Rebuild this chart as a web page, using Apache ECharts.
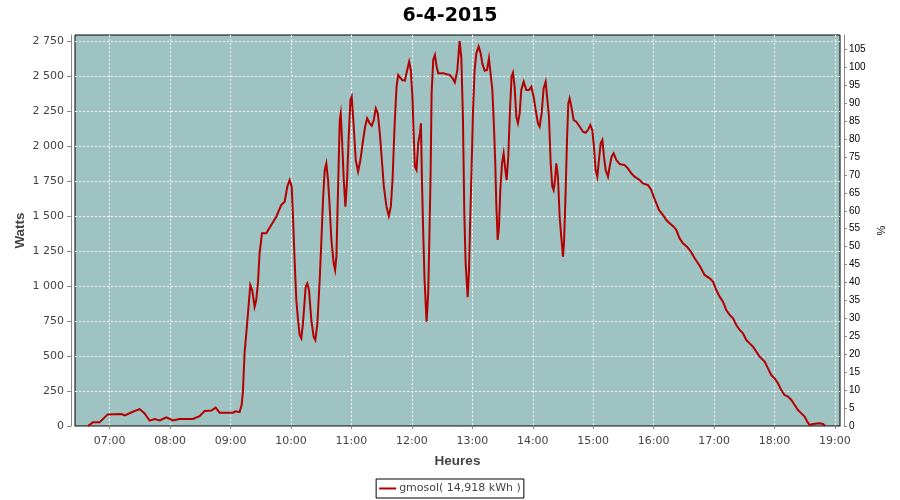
<!DOCTYPE html>
<html>
<head>
<meta charset="utf-8">
<script src="https://cdn.jsdelivr.net/npm/echarts@6/dist/echarts.min.js"></script>
<style>html,body{margin:0;padding:0;background:#fff}#c{width:900px;height:500px}</style>
</head>
<body>
<div id="c"></div>
<script>
// Time of day in minutes since midnight
const times = [398.5,403.4,410,418,431.6,435,443,449.8,454.7,459.7,464.7,469.6,476.3,482.8,489.5,502.7,509.3,514.3,521,525.2,529.2,542.4,545,549,551,552.3,553.9,556.7,559.6,561.5,563.9,565.5,567.2,568.8,571.2,575.5,580.4,585.4,590.4,593.7,596.4,598.7,600.7,602,603.6,605.3,607,608.6,610.3,611.9,614.6,616.2,617.9,620.2,622.5,624.2,626.2,628.5,630.2,631.8,633.5,635.1,636.8,638.4,640.1,642.4,643.8,645.1,646.7,648.4,649.4,650.7,652.4,654,655.7,657.3,659,660.3,662.3,664.3,666.6,668.9,671.6,673.6,675.6,678.2,680.2,682.2,684.2,686.2,688.2,690.2,692.2,694.8,697.1,699.1,700.8,702.8,704.8,706.4,708.1,710.4,713,715.4,717.3,719,720.7,722,723,724.6,726.3,728,729,730,731.3,732.6,734.6,736.2,737.2,738.6,739.6,741.2,742.9,744.6,746.2,751.2,757.8,760.5,762.7,765.1,767.4,769.1,770.7,772.1,773.4,775.4,776.7,778,779.3,780.7,782.3,784,786.3,788.3,789.9,792.3,794.6,796.5,797.9,799.9,801.5,802.8,803.8,805.2,806.5,807.8,809.5,811.1,812.4,814.1,815.7,817.4,819,820.4,822,823.7,825.3,827,828.6,831,833.6,836.3,838.6,840.9,842.9,845.2,846.8,848.8,850.8,852.8,854.5,856.1,857.8,859.4,860.7,862.1,863.4,865,866.7,868.3,870,871,872.3,874,875.3,876.6,878.3,880.6,883.2,886.6,889.9,892.5,894.8,897.1,899.1,900.8,902.4,904.1,905.7,907.4,909.1,910.7,912.4,914.7,916.3,918.3,920.3,923,926.3,931.2,934.5,937.8,941.1,946.1,949.4,954.4,957.7,960,962.7,965.3,969.3,972.6,975.9,979.9,982.5,985.8,989.1,993.1,997.4,1000.7,1005.7,1010.6,1015.6,1018.9,1022.2,1025.5,1028.8,1032.1,1035.5,1038.8,1042.1,1045.4,1048.7,1052,1055.3,1058.6,1061.9,1065.2,1070.2,1073.5,1076.8,1080.1,1083.4,1086.7,1090,1093.4,1096.7,1100,1103.3,1106.6,1109.9,1112.5,1114.9,1118.2,1124.8,1128.1,1130.1];
// Power in Watts
const watts = [0,26,26,83,85,75,102,121,90,38,50,40,62,40,50,50,70,107,110,131,95,95,105,100,150,245,519,750,1007,971,852,900,1019,1233,1376,1376,1436,1495,1579,1602,1710,1757,1710,1495,1186,900,757,650,626,733,995,1019,971,757,638,614,733,1043,1329,1614,1829,1876,1757,1567,1329,1162,1114,1210,1686,2186,2233,2043,1757,1567,1757,2067,2329,2352,2138,1900,1817,1900,2043,2138,2198,2162,2145,2186,2269,2233,2090,1900,1710,1567,1500,1567,1757,2138,2424,2507,2519,2471,2467,2543,2602,2543,2329,2043,1852,1829,2019,2090,2162,1757,1376,1043,745,948,1281,1805,2376,2614,2650,2567,2519,2519,2507,2483,2455,2540,2750,2630,2200,1510,1160,920,1110,1500,1840,2250,2543,2662,2710,2662,2590,2538,2543,2626,2614,2400,2138,1876,1590,1329,1424,1686,1876,1948,1852,1757,1924,2257,2495,2524,2424,2210,2162,2233,2400,2460,2400,2400,2424,2352,2257,2162,2138,2233,2412,2460,2448,2210,1876,1710,1686,1757,1876,1781,1495,1352,1210,1305,1590,2043,2305,2340,2281,2186,2174,2138,2102,2095,2114,2150,2114,1995,1829,1781,1900,2019,2043,1924,1829,1781,1852,1924,1948,1900,1871,1864,1840,1805,1781,1757,1733,1721,1686,1638,1590,1543,1507,1471,1448,1424,1400,1340,1305,1281,1240,1198,1145,1079,1055,1031,971,924,888,829,793,769,721,686,662,614,590,567,531,495,460,412,364,340,305,257,221,210,186,150,114,90,67,31,7,14,19,14,2];
// Tick values
const hourTicks = [420,480,540,600,660,720,780,840,900,960,1020,1080,1140];
const wattTicks = [0,250,500,750,1000,1250,1500,1750,2000,2250,2500,2750];
const pctTicks = [0,5,10,15,20,25,30,35,40,45,50,55,60,65,70,75,80,85,90,95,100,105];
const titleText = '6-4-2015';
const seriesName = 'gmosol( 14,918 kWh )';

const data = times.map((t, i) => [t, watts[i]]);
const pad = n => (n < 10 ? '0' : '') + n;
const fmtTime = v => pad(Math.floor(v / 60)) + ':' + pad(Math.round(v % 60));
const fmtW = v => String(v).replace(/\B(?=(\d{3})+(?!\d))/g, ' ');

const chart = echarts.init(document.getElementById('c'), null, {renderer: 'canvas'});
const lbl = {fontFamily: 'DejaVu Sans', fontSize: 11, color: '#444'};
const nameStyle = {fontFamily: 'Liberation Sans', fontSize: 13.5, fontWeight: 'bold', color: '#444'};
chart.setOption({
  animation: false,
  backgroundColor: '#fff',
  title: {
    text: titleText, left: 'center', top: 2,
    textStyle: {fontFamily: 'DejaVu Sans', fontSize: 19, fontWeight: 'bold', color: '#000'}
  },
  legend: {
    bottom: 2, left: 'center',
    data: [{name: seriesName, icon: 'rect'}],
    itemWidth: 17, itemHeight: 2, itemGap: 4,
    borderColor: '#000', borderWidth: 1, borderRadius: 0,
    padding: [4, 3, 4, 3],
    textStyle: {fontFamily: 'DejaVu Sans', fontSize: 11, color: '#444', padding: [0, 0, 0, -2]}
  },
  grid: {
    left: 75, right: 60, top: 35, bottom: 74,
    show: true, backgroundColor: '#9ec3c2', borderColor: '#000', borderWidth: 1
  },
  xAxis: {
    type: 'value', min: 385.6, max: 1145, offset: 4,
    name: 'Heures', nameLocation: 'middle', nameGap: 24, nameTextStyle: nameStyle,
    axisLine: {show: true, lineStyle: {color: '#888'}},
    axisTick: {show: true, length: 3, customValues: hourTicks, lineStyle: {color: '#888'}},
    axisLabel: Object.assign({customValues: hourTicks, margin: 6, formatter: fmtTime}, lbl),
    splitLine: {show: true, lineStyle: {color: '#fff', type: [2, 2], width: 1}}
  },
  yAxis: [{
    type: 'value', min: 0, max: 2793, offset: 4, position: 'left',
    name: 'Watts', nameLocation: 'middle', nameGap: 44, nameMoveOverlap: false, nameTextStyle: nameStyle,
    axisLine: {show: true, lineStyle: {color: '#888'}},
    axisTick: {show: true, length: 4, customValues: wattTicks, lineStyle: {color: '#888'}},
    axisLabel: Object.assign({customValues: wattTicks, margin: 7, formatter: fmtW}, lbl),
    splitLine: {show: true, lineStyle: {color: '#fff', type: [2, 2], width: 1}}
  }, {
    type: 'value', min: 0, max: 109, offset: 4, position: 'right',
    name: '%', nameLocation: 'middle', nameGap: 32,
    nameTextStyle: {fontFamily: 'Liberation Sans', fontSize: 11, color: '#000'},
    axisLine: {show: true, lineStyle: {color: '#888'}},
    axisTick: {show: true, length: 3, customValues: pctTicks, lineStyle: {color: '#888'}},
    axisLabel: {customValues: pctTicks, margin: 5, fontFamily: 'Liberation Sans', fontSize: 10, color: '#000'},
    splitLine: {show: false}
  }],
  series: [{
    name: seriesName, type: 'line', data: data, yAxisIndex: 0,
    showSymbol: false, symbol: 'none',
    itemStyle: {color: '#b40000'},
    lineStyle: {color: '#b40000', width: 2, join: 'miter'}
  }]
});
</script>
</body>
</html>
